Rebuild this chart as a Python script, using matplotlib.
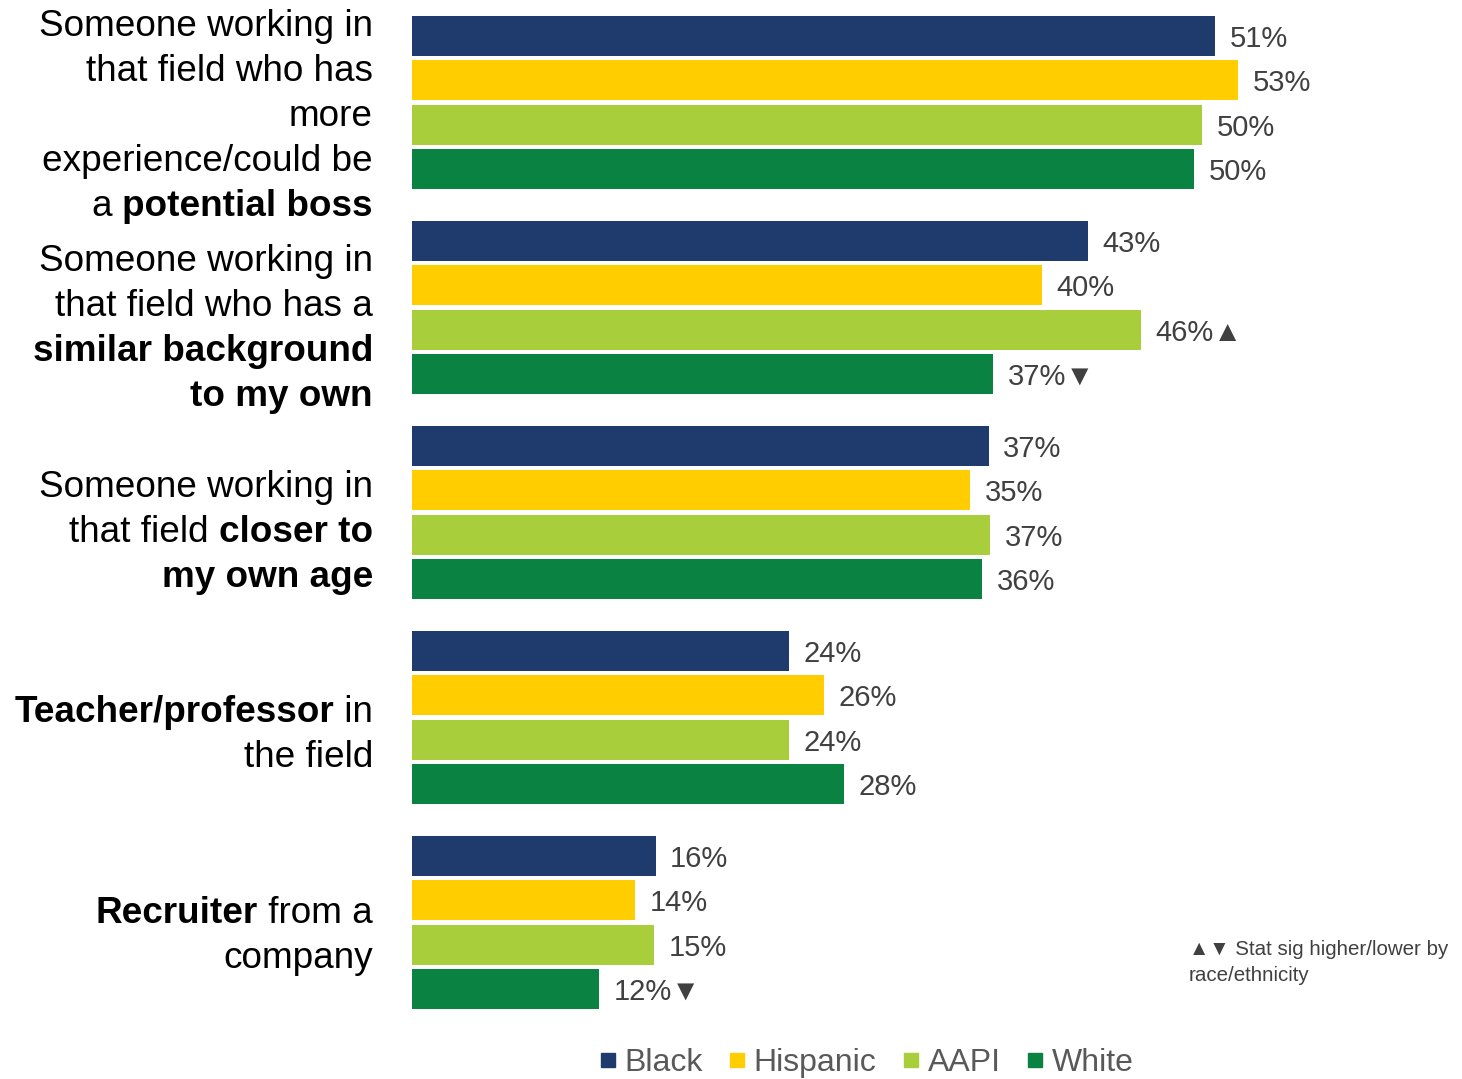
import matplotlib
matplotlib.use('Agg')
import matplotlib.pyplot as plt
from matplotlib.font_manager import FontProperties
from matplotlib.lines import Line2D

FAM = ['Liberation Sans', 'DejaVu Sans']
plt.rcParams['font.family'] = FAM

# ---------------- data ----------------
series = ['Black', 'Hispanic', 'AAPI', 'White']
colors = ['#1F3A6D', '#FFCD00', '#A8CE3B', '#0A8242']

# category labels: list of lines, each a list of (text, bold) segments
categories = [
    [[('Someone working in', False)],
     [('that field who has', False)],
     [('more', False)],
     [('experience/could be', False)],
     [('a ', False), ('potential boss', True)]],
    [[('Someone working in', False)],
     [('that field who has a', False)],
     [('similar background', True)],
     [('to my own', True)]],
    [[('Someone working in', False)],
     [('that field ', False), ('closer to', True)],
     [('my own age', True)]],
    [[('Teacher/professor', True), (' in', False)],
     [('the field', False)]],
    [[('Recruiter', True), (' from a', False)],
     [('company', False)]],
]

black_vals = [51.1, 43.0, 36.7, 24.0, 15.5]
hispanic_vals = [52.6, 40.1, 35.5, 26.2, 14.2]
aapi_vals = [50.3, 46.4, 36.8, 24.0, 15.4]
white_vals = [49.8, 37.0, 36.3, 27.5, 11.9]

black_labels = ['51%', '43%', '37%', '24%', '16%']
hispanic_labels = ['53%', '40%', '35%', '26%', '14%']
aapi_labels = ['50%', '46%', '37%', '24%', '15%']
white_labels = ['50%', '37%', '36%', '28%', '12%']

black_sig = ['', '', '', '', '']
hispanic_sig = ['', '', '', '', '']
aapi_sig = ['', '\u25B2', '', '', '']
white_sig = ['', '\u25BC', '', '', '\u25BC']

note_lines = ['\u25B2\u25BC Stat sig higher/lower by', 'race/ethnicity']

# ---------------- layout ----------------
W, H = 1462, 1079
fig = plt.figure(figsize=(W / 100, H / 100), dpi=100)
X0 = 412
PX_PER_PCT = 15.71
UNIT = 44.33
GROUP_PITCH = 205 / UNIT
ax = fig.add_axes([X0 / W, 0, 1 - X0 / W, 1])
ax.set_xlim(0, (W - X0) / PX_PER_PCT)
ax.set_ylim((H - 36) / UNIT, -36 / UNIT)
ax.axis('off')

all_vals = [black_vals, hispanic_vals, aapi_vals, white_vals]
all_labels = [black_labels, hispanic_labels, aapi_labels, white_labels]
all_sig = [black_sig, hispanic_sig, aapi_sig, white_sig]

for si in range(4):
    ys = [g * GROUP_PITCH + si for g in range(len(categories))]
    ax.barh(ys, all_vals[si], height=40 / UNIT, color=colors[si],
            edgecolor='none', left=0)
    for y, v, lab, sg in zip(ys, all_vals[si], all_labels[si], all_sig[si]):
        ax.annotate(lab + sg, (v, y), xytext=(10.6, -7.9),
                    textcoords='offset points', ha='left', va='baseline',
                    fontsize=21, color='#404040', family=FAM)

# ---------------- category labels (mixed weight) ----------------
renderer = fig.canvas.get_renderer()
CAT_FS = 26.6


def seg_width(s, bold):
    fp = FontProperties(family=FAM, weight='bold' if bold else 'normal',
                        size=CAT_FS)
    w1, _, _ = renderer.get_text_width_height_descent('|' + s + '|', fp, ismath=False)
    w0, _, _ = renderer.get_text_width_height_descent('||', fp, ismath=False)
    return w1 - w0


RIGHT_X = 373
LINE_PITCH = 45
group_offsets = [23.5, 31.5, 29.5, 27, 23.5]
for g, lines in enumerate(categories):
    center = 36 + (g * GROUP_PITCH + 1.5) * UNIT
    n = len(lines)
    for j, segs in enumerate(lines):
        base = center + group_offsets[g] + (j - (n - 1) / 2) * LINE_PITCH
        total = sum(seg_width(s, b) for s, b in segs)
        x = RIGHT_X - total
        for s, b in segs:
            fig.text(x / W, 1 - base / H, s, ha='left', va='baseline',
                     fontsize=CAT_FS, fontweight='bold' if b else 'normal',
                     color='black', family=FAM)
            x += seg_width(s, b)

# ---------------- note ----------------
fig.text(1189 / W, 1 - 955 / H, note_lines[0], ha='left', va='baseline',
         fontsize=14.8, color='#404040', family=FAM)
fig.text(1189 / W, 1 - 981 / H, note_lines[1], ha='left', va='baseline',
         fontsize=14.8, color='#404040', family=FAM)

# ---------------- legend ----------------
handles = [Line2D([], [], marker='s', ls='none', markersize=10,
                  markerfacecolor=c, markeredgecolor=c) for c in colors]
fig.legend(handles, series, loc='lower center',
           bbox_to_anchor=(867 / W, 0.001), ncol=4, frameon=False,
           prop=FontProperties(family=FAM, size=23), labelcolor='#595959',
           handlelength=0.45, handletextpad=0.3, columnspacing=0.85,
           borderpad=0, borderaxespad=0)

fig.savefig('out.png', dpi=100)
